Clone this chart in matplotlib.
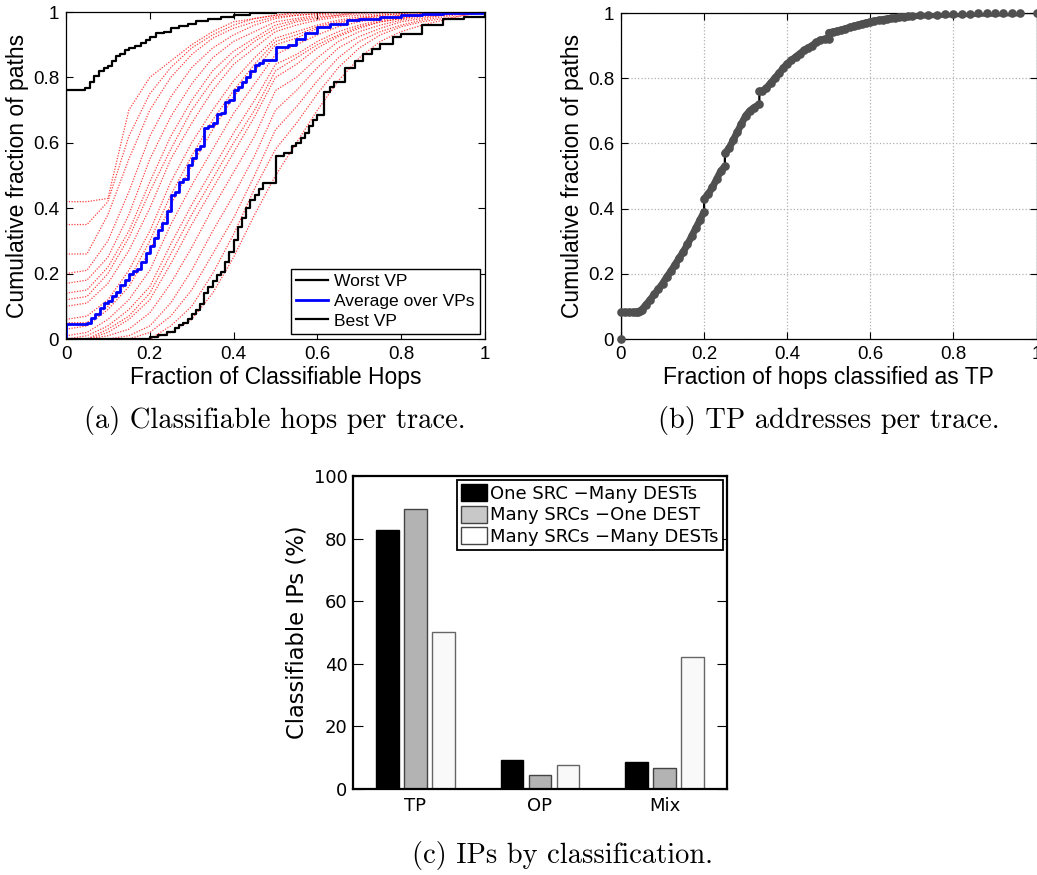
import matplotlib.pyplot as plt
from matplotlib.patches import Patch

# ---- (a) classifiable hops per trace: CDFs per vantage point ----
worst_x = [0, 0, 0.046, 0.058, 0.068, 0.078, 0.09, 0.1, 0.11, 0.12, 0.13, 0.14, 0.15, 0.165, 0.18,
           0.19, 0.2, 0.215, 0.235, 0.25, 0.27, 0.29, 0.31, 0.34, 0.37, 0.4, 0.44, 0.5, 0.6, 1.0]
worst_y = [0, 0.761, 0.768, 0.785, 0.805, 0.82, 0.828, 0.835, 0.85, 0.865, 0.873, 0.883, 0.89, 0.895,
           0.905, 0.915, 0.925, 0.935, 0.94, 0.95, 0.957, 0.963, 0.972, 0.98, 0.986, 0.992, 0.996,
           0.999, 1.0, 1.0]

avg_x = [0, 0, 0.05, 0.06, 0.07, 0.08, 0.09, 0.10, 0.11, 0.12, 0.13, 0.14, 0.15, 0.16, 0.17, 0.18,
         0.19, 0.20, 0.21, 0.22, 0.23, 0.24, 0.25, 0.26, 0.27, 0.28, 0.29, 0.30, 0.31, 0.32, 0.33,
         0.34, 0.35, 0.36, 0.37, 0.38, 0.39, 0.40, 0.41, 0.42, 0.43, 0.44, 0.45, 0.46, 0.47, 0.5,
         0.53, 0.55, 0.57, 0.6, 0.63, 0.67, 0.7, 0.75, 0.8, 0.85, 0.9, 1.0]
avg_y = [0, 0.047, 0.05, 0.064, 0.075, 0.095, 0.11, 0.115, 0.13, 0.145, 0.165, 0.18, 0.20, 0.207,
         0.215, 0.235, 0.262, 0.283, 0.31, 0.334, 0.355, 0.39, 0.44, 0.45, 0.48, 0.49, 0.532, 0.552,
         0.58, 0.59, 0.646, 0.65, 0.66, 0.688, 0.69, 0.725, 0.73, 0.76, 0.77, 0.786, 0.80, 0.82,
         0.837, 0.845, 0.854, 0.893, 0.90, 0.918, 0.937, 0.954, 0.962, 0.975, 0.98, 0.985, 0.99,
         0.995, 0.997, 1.0]

best_x = [0, 0.2, 0.22, 0.24, 0.26, 0.27, 0.28, 0.29, 0.3, 0.31, 0.32, 0.33, 0.34, 0.35, 0.36, 0.37,
          0.38, 0.39, 0.40, 0.41, 0.42, 0.43, 0.44, 0.45, 0.46, 0.47, 0.5, 0.52, 0.54, 0.55, 0.56,
          0.57, 0.58, 0.59, 0.6, 0.615, 0.63, 0.64, 0.667, 0.69, 0.71, 0.73, 0.75, 0.78, 0.8, 0.85,
          0.9, 0.95, 1.0, 1.0]
best_y = [0, 0.005, 0.012, 0.02, 0.035, 0.044, 0.05, 0.06, 0.075, 0.09, 0.108, 0.142, 0.16, 0.176,
          0.196, 0.206, 0.237, 0.267, 0.303, 0.344, 0.37, 0.40, 0.425, 0.44, 0.46, 0.478, 0.56, 0.57,
          0.59, 0.6, 0.615, 0.63, 0.65, 0.67, 0.685, 0.755, 0.77, 0.786, 0.83, 0.85, 0.873, 0.888,
          0.903, 0.924, 0.934, 0.96, 0.978, 0.985, 0.985, 1.0]

# the individual VPs (red dotted), read on a 0.05 grid
vp_x = [0, 0.05, 0.1, 0.15, 0.2, 0.25, 0.3, 0.35, 0.4, 0.45, 0.5, 0.55, 0.6, 0.65, 0.7,
        0.75, 0.8, 0.85, 0.9, 0.95, 1.0]
vp_01 = [0.42, 0.42, 0.43, 0.70, 0.80, 0.85, 0.90, 0.94, 0.97, 0.98, 0.99, 0.995, 1, 1, 1, 1, 1, 1, 1, 1, 1]
vp_02 = [0.35, 0.35, 0.42, 0.62, 0.75, 0.83, 0.89, 0.93, 0.96, 0.98, 0.99, 1, 1, 1, 1, 1, 1, 1, 1, 1, 1]
vp_03 = [0.26, 0.26, 0.38, 0.55, 0.70, 0.80, 0.87, 0.92, 0.95, 0.97, 0.985, 0.99, 0.995, 1, 1, 1, 1, 1, 1, 1, 1]
vp_04 = [0.20, 0.21, 0.30, 0.45, 0.62, 0.74, 0.83, 0.89, 0.93, 0.96, 0.98, 0.99, 0.995, 1, 1, 1, 1, 1, 1, 1, 1]
vp_05 = [0.17, 0.18, 0.25, 0.38, 0.55, 0.68, 0.78, 0.86, 0.91, 0.94, 0.97, 0.98, 0.99, 0.995, 1, 1, 1, 1, 1, 1, 1]
vp_06 = [0.14, 0.15, 0.22, 0.33, 0.48, 0.62, 0.73, 0.82, 0.88, 0.92, 0.96, 0.975, 0.985, 0.99, 0.995, 1, 1, 1, 1, 1, 1]
vp_07 = [0.12, 0.13, 0.20, 0.31, 0.45, 0.58, 0.70, 0.79, 0.86, 0.91, 0.95, 0.97, 0.98, 0.99, 1, 1, 1, 1, 1, 1, 1]
vp_08 = [0.10, 0.11, 0.17, 0.27, 0.40, 0.55, 0.66, 0.76, 0.84, 0.89, 0.94, 0.96, 0.975, 0.985, 0.99, 0.995, 1, 1, 1, 1, 1]
vp_09 = [0.06, 0.07, 0.12, 0.21, 0.33, 0.48, 0.60, 0.70, 0.79, 0.86, 0.92, 0.94, 0.96, 0.975, 0.985, 0.99, 0.995, 1, 1, 1, 1]
vp_10 = [0.05, 0.05, 0.10, 0.18, 0.30, 0.44, 0.56, 0.67, 0.76, 0.84, 0.91, 0.93, 0.955, 0.97, 0.98, 0.99, 0.995, 1, 1, 1, 1]
vp_11 = [0.03, 0.04, 0.09, 0.16, 0.27, 0.41, 0.53, 0.64, 0.74, 0.82, 0.90, 0.92, 0.95, 0.965, 0.98, 0.985, 0.99, 0.995, 1, 1, 1]
vp_12 = [0.01, 0.02, 0.06, 0.12, 0.21, 0.35, 0.47, 0.58, 0.69, 0.78, 0.87, 0.90, 0.93, 0.955, 0.97, 0.98, 0.99, 0.995, 1, 1, 1]
vp_13 = [0, 0.01, 0.04, 0.09, 0.16, 0.29, 0.41, 0.52, 0.63, 0.73, 0.84, 0.87, 0.91, 0.94, 0.96, 0.975, 0.985, 0.99, 0.995, 1, 1]
vp_14 = [0, 0, 0.03, 0.07, 0.14, 0.26, 0.38, 0.49, 0.60, 0.70, 0.82, 0.86, 0.90, 0.93, 0.955, 0.97, 0.98, 0.99, 0.995, 1, 1]
vp_15 = [0, 0, 0.02, 0.06, 0.12, 0.23, 0.35, 0.46, 0.57, 0.68, 0.80, 0.84, 0.89, 0.925, 0.95, 0.97, 0.98, 0.99, 0.995, 1, 1]
vp_16 = [0, 0, 0.01, 0.03, 0.08, 0.17, 0.28, 0.40, 0.51, 0.62, 0.76, 0.80, 0.86, 0.91, 0.94, 0.96, 0.975, 0.985, 0.99, 1, 1]
vp_17 = [0, 0, 0, 0.01, 0.04, 0.11, 0.21, 0.33, 0.44, 0.56, 0.70, 0.76, 0.83, 0.89, 0.925, 0.95, 0.97, 0.98, 0.99, 0.995, 1]
vp_18 = [0, 0, 0, 0, 0.02, 0.07, 0.15, 0.26, 0.37, 0.50, 0.64, 0.71, 0.79, 0.86, 0.91, 0.94, 0.96, 0.975, 0.985, 0.995, 1]
vp_19 = [0, 0, 0, 0, 0, 0.04, 0.10, 0.20, 0.32, 0.46, 0.58, 0.66, 0.75, 0.83, 0.89, 0.93, 0.955, 0.97, 0.98, 0.99, 1]
vp_20 = [0, 0, 0, 0, 0, 0.02, 0.06, 0.14, 0.25, 0.38, 0.50, 0.60, 0.70, 0.79, 0.86, 0.91, 0.94, 0.96, 0.975, 0.99, 1]
vp_curves = [vp_01, vp_02, vp_03, vp_04, vp_05, vp_06, vp_07, vp_08, vp_09, vp_10,
             vp_11, vp_12, vp_13, vp_14, vp_15, vp_16, vp_17, vp_18, vp_19, vp_20]

# ---- (b) fraction of hops classified as TP ----
tp_x = [0, 0, 0.01, 0.02, 0.03, 0.035, 0.04, 0.045, 0.05, 0.06, 0.07, 0.08, 0.09, 0.10, 0.11, 0.12,
        0.13, 0.14, 0.15, 0.16, 0.17, 0.18, 0.19, 0.20, 0.20, 0.21, 0.22, 0.23, 0.24, 0.25, 0.25,
        0.26, 0.27, 0.28, 0.29, 0.30, 0.31, 0.32, 0.333, 0.333, 0.34, 0.35, 0.36, 0.37, 0.38, 0.39,
        0.40, 0.41, 0.42, 0.43, 0.44, 0.45, 0.46, 0.47, 0.48, 0.49, 0.50, 0.50, 0.51, 0.52, 0.53,
        0.54, 0.55, 0.56, 0.57, 0.58, 0.59, 0.60, 0.61, 0.62, 0.63, 0.64, 0.65, 0.66, 0.67, 0.68,
        0.69, 0.70, 0.72, 0.74, 0.76, 0.78, 0.80, 0.82, 0.84, 0.86, 0.88, 0.90, 0.92, 0.94, 0.96, 1.0]
tp_y = [0, 0.082, 0.082, 0.082, 0.082, 0.082, 0.084, 0.086, 0.09, 0.105, 0.12, 0.137, 0.153, 0.17,
        0.19, 0.208, 0.228, 0.248, 0.268, 0.29, 0.315, 0.34, 0.365, 0.39, 0.43, 0.445, 0.465, 0.49,
        0.515, 0.53, 0.57, 0.585, 0.61, 0.635, 0.66, 0.685, 0.70, 0.71, 0.72, 0.76, 0.76, 0.77,
        0.785, 0.80, 0.815, 0.83, 0.845, 0.855, 0.865, 0.875, 0.885, 0.893, 0.90, 0.91, 0.917, 0.92,
        0.92, 0.94, 0.942, 0.945, 0.948, 0.952, 0.956, 0.96, 0.963, 0.967, 0.97, 0.973, 0.976,
        0.978, 0.98, 0.982, 0.984, 0.986, 0.988, 0.989, 0.99, 0.991, 0.993, 0.994, 0.995, 0.996,
        0.997, 0.998, 0.998, 0.999, 0.999, 0.999, 1.0, 1.0, 1.0, 1.0]

# ---- (c) IPs by classification ----
classes = ['TP', 'OP', 'Mix']
one_src_many_dst = [82.7, 9.3, 8.5]
many_src_one_dst = [89.3, 4.5, 6.6]
many_src_many_dst = [50.2, 7.6, 42.3]
setup_names = ['One SRC \u2212Many DESTs', 'Many SRCs \u2212One DEST', 'Many SRCs \u2212Many DESTs']

cdf_ticks = [0, 0.2, 0.4, 0.6, 0.8, 1]
cdf_ticklabels = ['0', '0.2', '0.4', '0.6', '0.8', '1']

W, H = 1037, 875
fig = plt.figure(figsize=(W / 100, H / 100), dpi=100)
plt.rcParams['font.family'] = ['Liberation Sans', 'DejaVu Sans']


def px_axes(left, top, right, bottom):
    return fig.add_axes([left / W, 1 - bottom / H, (right - left) / W, (bottom - top) / H])


def cdf_style(ax):
    ax.set_xlim(0, 1)
    ax.set_ylim(0, 1)
    ax.set_xticks(cdf_ticks)
    ax.set_xticklabels(cdf_ticklabels)
    ax.set_yticks(cdf_ticks)
    ax.set_yticklabels(cdf_ticklabels)
    ax.tick_params(direction='in', top=True, right=True, length=5, labelsize=13.5, pad=5)
    for s in ax.spines.values():
        s.set_linewidth(0.9)


# (a)
ax1 = px_axes(66, 12, 485, 339)
for vp in vp_curves:
    ax1.plot(vp_x, vp, color='red', ls=(0, (1, 1.2)), lw=0.9, alpha=0.75)
ax1.step(worst_x, worst_y, where='post', color='black', lw=1.6, label='Worst VP')
ax1.step(avg_x, avg_y, where='post', color='#0000ff', lw=2.0, label='Average over VPs')
ax1.step(best_x, best_y, where='post', color='black', lw=1.6, label='Best VP')
cdf_style(ax1)
ax1.set_xlabel('Fraction of Classifiable Hops', fontsize=16.5, labelpad=2)
ax1.set_ylabel('Cumulative fraction of paths', fontsize=16.5, labelpad=3)
leg = ax1.legend(loc='lower right', fontsize=12.6, frameon=True, fancybox=False,
                 edgecolor='black', framealpha=1, handlelength=1.8, handletextpad=0.35,
                 labelspacing=0.25, borderaxespad=0.3, borderpad=0.3)
leg.get_frame().set_linewidth(1.0)

# (b)
ax2 = px_axes(621, 13, 1036.5, 339)
ax2.grid(True, color='#b0b0b0', ls=':', lw=0.9)
ax2.plot(tp_x, tp_y, color='black', lw=1.6, zorder=2)
# thick band under the markers, broken at the vertical jumps
seg_x, seg_y = [tp_x[0]], [tp_y[0]]
for i in range(1, len(tp_x)):
    if tp_x[i] == tp_x[i - 1] or tp_x[i] - tp_x[i - 1] > 0.03:
        ax2.plot(seg_x, seg_y, color='#505050', lw=5, solid_capstyle='round', zorder=3)
        seg_x, seg_y = [], []
    seg_x.append(tp_x[i])
    seg_y.append(tp_y[i])
ax2.plot(seg_x, seg_y, color='#505050', lw=5, solid_capstyle='round', zorder=3)
ax2.plot(tp_x, tp_y, ls='none', marker='o', ms=5.2, markerfacecolor='#505050',
         markeredgecolor='#505050', clip_on=False, zorder=4)
cdf_style(ax2)
ax2.set_xlabel('Fraction of hops classified as TP', fontsize=16.5, labelpad=2)
ax2.set_ylabel('Cumulative fraction of paths', fontsize=16.5, labelpad=3)

# (c)
ax3 = px_axes(353, 476, 727, 789)
pos = range(len(classes))
bw = 0.18
off = 0.225
ax3.bar([p - off for p in pos], one_src_many_dst, bw, color='black', edgecolor='black', lw=1)
ax3.bar([p for p in pos], many_src_one_dst, bw, color='#b3b3b3', edgecolor='#444444', lw=1)
ax3.bar([p + off for p in pos], many_src_many_dst, bw, color='#f9f9f9', edgecolor='#666666', lw=1)
ax3.set_xlim(-0.5, 2.5)
ax3.set_ylim(0, 100)
ax3.set_xticks(list(pos))
ax3.set_xticklabels(classes, fontfamily='DejaVu Sans', fontsize=13)
ax3.set_yticks([0, 20, 40, 60, 80, 100])
ax3.tick_params(axis='y', direction='in', right=True, length=7, labelsize=13, pad=4)
ax3.tick_params(axis='x', length=0, pad=6)
for lab in ax3.get_yticklabels():
    lab.set_fontfamily('DejaVu Sans')
for s in ax3.spines.values():
    s.set_linewidth(1.6)
ax3.set_ylabel('Classifiable IPs (%)', fontsize=16.3, fontfamily='DejaVu Sans', labelpad=4)
handles = [Patch(facecolor='black', edgecolor='black'),
           Patch(facecolor='#c8c8c8', edgecolor='#444444'),
           Patch(facecolor='white', edgecolor='#444444')]
leg3 = ax3.legend(handles, setup_names, loc='upper right', prop={'family': 'DejaVu Sans', 'size': 13},
                  frameon=True, fancybox=False, edgecolor='black', framealpha=1,
                  handlelength=1.4, handleheight=1.1, handletextpad=0.2, labelspacing=0.15,
                  borderaxespad=0.2, borderpad=0.25)
leg3.get_frame().set_linewidth(1.3)

# captions
fig.text(275 / W, 1 - 421 / H, '(a) Classifiable hops per trace.', fontfamily='cmr10',
         fontsize=20.5, ha='center', va='center')
fig.text(829 / W, 1 - 421 / H, '(b) TP addresses per trace.', fontfamily='cmr10',
         fontsize=20.5, ha='center', va='center')
fig.text(562 / W, 1 - 855 / H, '(c) IPs by classification.', fontfamily='cmr10',
         fontsize=20.5, ha='center', va='center')

fig.savefig('out.png', dpi=100)
